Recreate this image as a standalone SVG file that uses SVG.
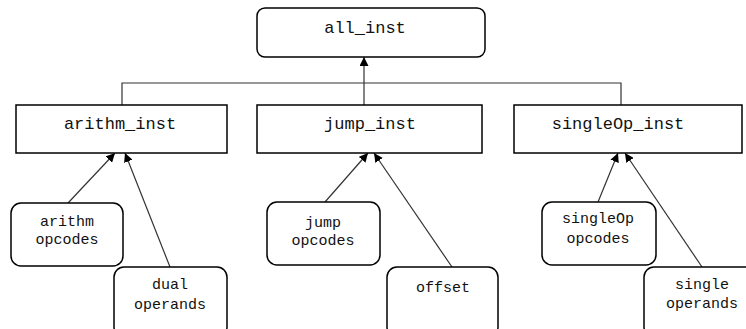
<svg xmlns="http://www.w3.org/2000/svg" width="746" height="329" viewBox="0 0 746 329">
  <style>
    .box { fill: #ffffff; stroke: #000000; stroke-width: 1.5; }
    .lbl { font-family: "Liberation Mono", "Courier New", monospace; fill: #111111; text-anchor: middle; }
    .big { font-size: 17px; }
    .small { font-size: 15px; }
    .link { fill: none; stroke: #333333; stroke-width: 1.2; }
  </style>
  <defs>
    <marker id="arrow" viewBox="0 0 10 10" refX="10" refY="5" markerWidth="9" markerHeight="9" markerUnits="userSpaceOnUse" orient="auto">
      <path d="M0,0 L10,5 L0,10 Z" fill="#000000"/>
    </marker>
  </defs>
  <rect width="746" height="329" fill="#ffffff"/>

  <g id="connectors">
    <path class="link" d="M122,105 V83 H621 V105"/>
    <line class="link" x1="364" y1="105" x2="364" y2="57" stroke-width="2" marker-end="url(#arrow)"/>
    <line class="link" x1="68" y1="203" x2="115" y2="153" marker-end="url(#arrow)"/>
    <line class="link" x1="170" y1="267" x2="125" y2="153" marker-end="url(#arrow)"/>
    <line class="link" x1="325" y1="202" x2="368" y2="153" marker-end="url(#arrow)"/>
    <line class="link" x1="452" y1="267" x2="374" y2="153" marker-end="url(#arrow)"/>
    <line class="link" x1="598" y1="202" x2="618" y2="153" marker-end="url(#arrow)"/>
    <line class="link" x1="702" y1="267" x2="625" y2="153" marker-end="url(#arrow)"/>
  </g>

  <g id="all_inst">
    <rect class="box" x="257" y="8" width="228" height="49" rx="8"/>
    <text class="lbl big" x="365" y="33">all_inst</text>
  </g>
  <g id="arithm_inst">
    <rect class="box" x="16" y="105" width="211" height="48"/>
    <text class="lbl big" x="120" y="129">arithm_inst</text>
  </g>
  <g id="jump_inst">
    <rect class="box" x="257" y="105" width="225" height="48"/>
    <text class="lbl big" x="370" y="129">jump_inst</text>
  </g>
  <g id="singleOp_inst">
    <rect class="box" x="514" y="105" width="228" height="48"/>
    <text class="lbl big" x="618" y="129">singleOp_inst</text>
  </g>

  <g id="arithm_opcodes">
    <rect class="box" x="11" y="203" width="112" height="63" rx="10"/>
    <text class="lbl small" x="67" y="226">arithm</text>
    <text class="lbl small" x="67" y="244">opcodes</text>
  </g>
  <g id="dual_operands">
    <rect class="box" x="114" y="267" width="113" height="70" rx="10"/>
    <text class="lbl small" x="170" y="289">dual</text>
    <text class="lbl small" x="170" y="309">operands</text>
  </g>
  <g id="jump_opcodes">
    <rect class="box" x="267" y="202" width="113" height="63" rx="10"/>
    <text class="lbl small" x="323" y="227">jump</text>
    <text class="lbl small" x="323" y="245">opcodes</text>
  </g>
  <g id="offset">
    <rect class="box" x="387" y="267" width="111" height="70" rx="10"/>
    <text class="lbl small" x="443" y="292">offset</text>
  </g>
  <g id="singleOp_opcodes">
    <rect class="box" x="542" y="202" width="114" height="63" rx="10"/>
    <text class="lbl small" x="598" y="223">singleOp</text>
    <text class="lbl small" x="598" y="243">opcodes</text>
  </g>
  <g id="single_operands">
    <rect class="box" x="644" y="267" width="120" height="70" rx="10"/>
    <text class="lbl small" x="702" y="289">single</text>
    <text class="lbl small" x="702" y="308">operands</text>
  </g>
</svg>
